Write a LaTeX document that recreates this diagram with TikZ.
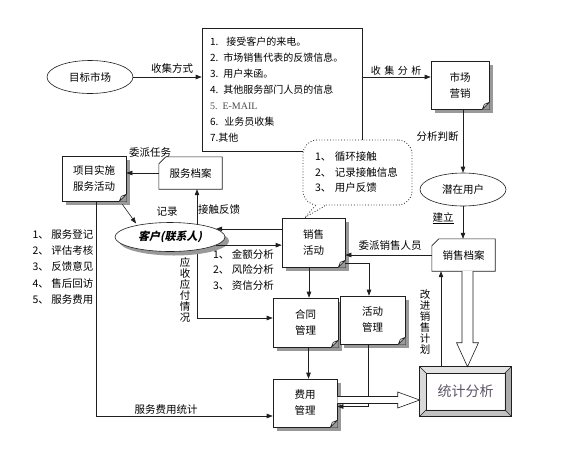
\documentclass[tikz,border=0pt]{standalone}
\usepackage{fontspec}
\setmainfont{Noto Sans CJK SC}
\newfontfamily\serifen{Liberation Serif}
\newfontfamily\cjksl{Noto Sans CJK SC}[FakeSlant=0.22]
\usetikzlibrary{shapes.geometric,shadows,calc,arrows.meta}
\pgfdeclarelayer{back}
\pgfsetlayers{back,main}
\definecolor{shadowc}{gray}{0.6}
\definecolor{linec}{gray}{0.12}
\definecolor{tjtext}{RGB}{92,84,104}
\newcommand\foldcorner[1]{%
  \fill[shadowc] ($(#1.south east)+(-7.4,0.4)$) -- ($(#1.south east)+(0.4,0.4)$) -- ($(#1.south east)+(0.4,-7.4)$) -- cycle;
  \draw[ln, fill=gray!12, line join=round] ($(#1.south east)+(0,-7)$) -- ($(#1.south east)+(-7,0)$) -- ($(#1.south east)+(-5,-5)$) -- cycle;}
\newcommand\chamfbox[1]{%
  \draw[ln] ($(#1.north west)+(7,0)$) -- (#1.north east) -- (#1.south east) -- (#1.south west) -- ($(#1.north west)+(0,7)$) -- cycle;}
\begin{document}
\begin{tikzpicture}[x=1pt,y=-1pt,
  every node/.append style={font=\fontsize{10.5}{12.5}\selectfont, inner sep=1pt},
  ln/.style={line width=0.6pt, draw=linec},
  arr/.style={ln, -{Triangle[length=6pt,width=4.5pt]}},
  foldbox/.style={draw=linec, line width=0.6pt, fill=white,
    drop shadow={shadow xshift=4pt, shadow yshift=-4pt, fill=shadowc, opacity=1},
    align=center, font=\fontsize{10.5}{16}\selectfont, inner sep=0pt},
  filebox/.style={align=center, inner sep=0pt, minimum width=63pt, minimum height=32pt},
  oval/.style={ellipse, draw=linec, line width=0.6pt, fill=white, inner sep=0pt},
  lbl/.style={inner sep=1pt},
  vlbl/.style={align=center, inner sep=0pt, font=\fontsize{10.5}{11}\selectfont},
  hollow/.style={ln, fill=white, line join=miter}
]
\useasboundingbox (0,0) rectangle (570,448);
\begin{pgfonlayer}{back}
  \fill[white] (0,0) rectangle (570,448);
\end{pgfonlayer}

% ---------- nodes ----------
\node[oval, minimum width=86pt, minimum height=33pt] (tm) at (90,77) {目标市场};
\node[draw=linec, line width=0.6pt, fill=white, minimum width=160pt, minimum height=123pt,
      text width=144pt, align=left, inner xsep=8pt, inner ysep=2pt,
      font=\fontsize{10}{16}\selectfont] (src) at (282,89.5)
  {1.\hspace{8pt}接受客户的来电。\\
   2. 市场销售代表的反馈信息。\\
   3. 用户来函。\\
   4. 其他服务部门人员的信息\\
   {\serifen\color{black!70}5. E-MAIL}\\
   6.\hspace{6pt}业务员收集\\
   7.其他};
\node[foldbox, minimum width=58pt, minimum height=48pt] (mm) at (460,85) {市场\\营销};
\node[oval, minimum width=86pt, minimum height=33pt] (qz) at (463,189.5) {潜在用户};
\node[filebox] (xsda) at (463.5,255) {销售档案};
\chamfbox{xsda}
\node[draw=linec, line width=0.8pt, dotted, rounded corners=14pt, fill=white,
      minimum width=109pt, minimum height=65pt, text width=85pt, inner xsep=12pt,
      align=left, font=\fontsize{10.5}{15.5}\selectfont] (bub) at (357.5,172.5)
  {1、 循环接触\\2、 记录接触信息\\3、 用户反馈};
\node[foldbox, minimum width=63pt, minimum height=49pt] (xshd) at (313.5,242.5) {销售\\活动};
\node[filebox] (fwda) at (190.5,173) {服务档案};
\chamfbox{fwda}
\node[foldbox, minimum width=64pt, minimum height=45pt] (xm) at (94,178.5) {项目实施\\服务活动};
\node[oval, minimum width=110pt, minimum height=29pt,
      drop shadow={shadow xshift=4pt, shadow yshift=-4pt, fill=shadowc, opacity=1},
      font=\fontsize{11}{13}\selectfont] (kh) at (170,237) {{\cjksl\bfseries 客户(联系人)}};
\node[foldbox, minimum width=65pt, minimum height=49pt] (ht) at (305.5,322.5) {合同\\管理};
\node[foldbox, minimum width=65pt, minimum height=48pt] (hd) at (372.5,320) {活动\\管理};
\node[foldbox, minimum width=64pt, minimum height=48pt] (fy) at (305,403) {费用\\管理};
\foreach \n in {mm,xshd,xm,ht,hd,fy} {\foldcorner{\n}}

% statistics frame
\node[draw=linec, line width=0.6pt, minimum width=91pt, minimum height=49pt,
      font=\fontsize{14}{16}\selectfont, text=tjtext] (tj) at (465.5,391.5) {统计分析};
\coordinate (i1) at ($(tj.north west)+(6.5,6.5)$);
\coordinate (i2) at ($(tj.north east)+(-6.5,6.5)$);
\coordinate (i3) at ($(tj.south east)+(-6.5,-6.5)$);
\coordinate (i4) at ($(tj.south west)+(6.5,-6.5)$);
\fill[gray!22] (tj.north west) -- (tj.north east) -- (i2) -- (i1) -- cycle;
\fill[gray!30] (tj.north west) -- (i1) -- (i4) -- (tj.south west) -- cycle;
\fill[gray!65] (tj.north east) -- (tj.south east) -- (i3) -- (i2) -- cycle;
\fill[gray!48] (tj.south west) -- (i4) -- (i3) -- (tj.south east) -- cycle;
\draw[ln] (tj.north west) rectangle (tj.south east);
\draw[ln] (i1) rectangle (i3);
\draw[ln] (tj.north west) -- (i1) (tj.north east) -- (i2) (tj.south east) -- (i3) (tj.south west) -- (i4);

% ---------- labels ----------
\node[lbl] (lsjfs) at (172,68) {收集方式};
\node[lbl, font=\fontsize{10}{12}\selectfont] (lsjfx) at (396,70.5) {收\hspace{3.5pt}集\hspace{3.5pt}分\hspace{3.5pt}析};
\node[lbl] (lfxpd) at (437.5,137) {分析判断};
\node[lbl] (ljl) at (443,218) {\underline{建立}};
\node[lbl] (lwpxs) at (390,246) {委派销售人员};
\node[lbl] (lwprw) at (150,153) {委派任务};
\node[lbl] (ljilu) at (167,212) {记录};
\node[lbl] (ljcfk) at (219,210) {接触反馈};
\node[align=left, inner sep=0pt, font=\fontsize{10.5}{15.5}\selectfont] (lamt) at (243.5,269.5)
  {1、 金额分析\\2、 风险分析\\3、 资信分析};
\node[vlbl] (lysyf) at (185,289.5) {应\\收\\应\\付\\情\\况};
\node[align=left, inner sep=0pt, font=\fontsize{10.5}{16.3}\selectfont] (lsvc) at (63,267)
  {1、 服务登记\\2、 评估考核\\3、 反馈意见\\4、 售后回访\\5、 服务费用};
\node[vlbl] (lgjxs) at (425,322) {改\\进\\销\\售\\计\\划};

% ---------- connectors ----------
\coordinate (vx) at ([xshift=6.5pt]fwda.south);
\coordinate (vx2) at ([xshift=2pt]xm.south);
\begin{pgfonlayer}{back}
  \draw[arr] (vx |- kh.center) -- (vx);
  \draw[arr] (vx |- kh.center) |- ([yshift=4.5pt]ht.west);
\end{pgfonlayer}
\node[lbl, fill=white, inner sep=0pt] (lfyt) at (166,409.5) {服务费用统计};
\draw[arr] (tm.east) -- (tm.east -| src.west);
\draw[arr] (tm.east -| src.east) -- (tm.east -| mm.west);
\draw[arr] (qz.north |- mm.south) -- (qz.north);
\draw[arr] (qz.south) -- (qz.south |- xsda.north);
\draw[arr] (xsda.west) -- (xsda.west -| xshd.east);
\coordinate (tip) at ($(xshd.north west)+(23,0)$);
\fill[white] ($(bub.south west)+(12,-1)$) -- (tip) -- ($(bub.south west)+(24,-1)$) -- cycle;
\draw[draw=linec, line width=0.8pt, dotted] ($(bub.south west)+(13,0)$) -- (tip) -- ($(bub.south west)+(23,0)$);
\draw[arr] (xshd.west |- kh.10) -- (kh.10);
\draw[arr] (kh.-10) -- (kh.-10 -| xshd.west);
\draw[arr] (fwda.west) -- (fwda.west -| xm.east);
\draw[arr, shorten >=2pt] ([shift={(-4,3)}]xm.south east) -- (kh.160);
\draw[arr] (vx2) |- ([yshift=-13pt]fy.west);
\draw[arr] ([xshift=-4.5pt]xshd.south) -- ([xshift=-4.5pt]xshd.south |- ht.north);
\draw[arr] ([yshift=-20.5pt]xshd.east) -| ([xshift=-3.5pt]hd.north);
\draw[arr] ([xshift=3pt]ht.south) -- ([xshift=3pt]ht.south |- fy.north);
\draw[arr] ([xshift=-4.5pt]hd.south) |- ([yshift=-3.5pt]fy.east);
\draw[arr] ([xshift=-24.5pt]tj.north) -- ([xshift=-24.5pt]tj.north |- xsda.south);
% hollow arrows
\coordinate (ha1) at ([yshift=3pt]fy.east);
\coordinate (ha2) at (ha1 -| tj.west);
\draw[hollow] ($(ha1)+(0,-3.5)$) -- ($(ha2)+(-22,-3.5)$) -- ($(ha2)+(-22,-8)$) -- (ha2)
  -- ($(ha2)+(-22,8)$) -- ($(ha2)+(-22,3.5)$) -- ($(ha1)+(0,3.5)$);
\coordinate (va1) at ([xshift=4pt]xsda.south);
\coordinate (va2) at (va1 |- tj.north);
\draw[hollow] ($(va1)+(-5.5,0)$) -- ($(va2)+(-5.5,-24)$) -- ($(va2)+(-11,-24)$) -- (va2)
  -- ($(va2)+(11,-24)$) -- ($(va2)+(5.5,-24)$) -- ($(va1)+(5.5,0)$);
\end{tikzpicture}
\end{document}
